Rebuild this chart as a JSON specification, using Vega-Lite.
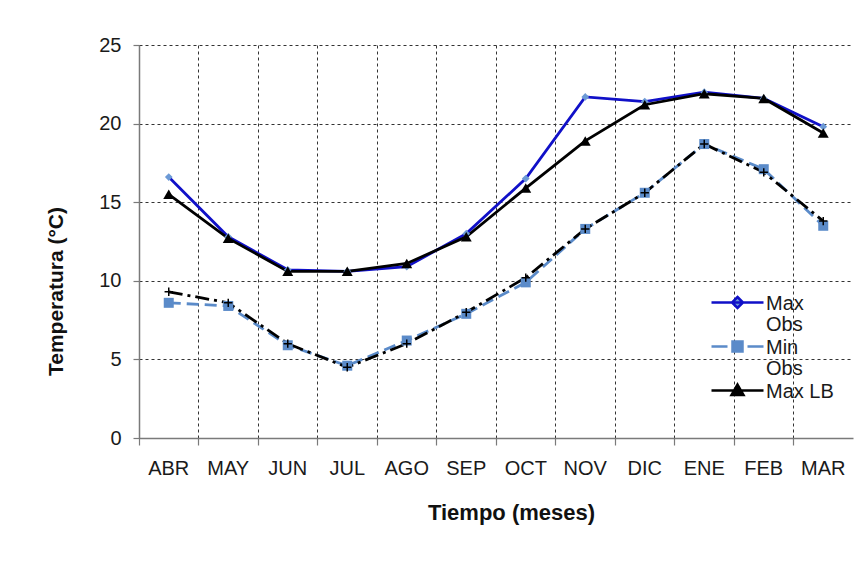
{
  "$schema": "https://vega.github.io/schema/vega-lite/v6.json",
  "width": 714,
  "height": 393,
  "autosize": {"type": "none"},
  "padding": {"left": 139, "top": 45, "right": 9, "bottom": 128},
  "background": "white",
  "data": {
    "values": [
      {"mes": "ABR", "serie": "Max Obs", "t": 16.6},
      {"mes": "MAY", "serie": "Max Obs", "t": 12.8},
      {"mes": "JUN", "serie": "Max Obs", "t": 10.7},
      {"mes": "JUL", "serie": "Max Obs", "t": 10.6},
      {"mes": "AGO", "serie": "Max Obs", "t": 10.9},
      {"mes": "SEP", "serie": "Max Obs", "t": 13.0},
      {"mes": "OCT", "serie": "Max Obs", "t": 16.5},
      {"mes": "NOV", "serie": "Max Obs", "t": 21.7},
      {"mes": "DIC", "serie": "Max Obs", "t": 21.4},
      {"mes": "ENE", "serie": "Max Obs", "t": 22.0},
      {"mes": "FEB", "serie": "Max Obs", "t": 21.6},
      {"mes": "MAR", "serie": "Max Obs", "t": 19.8},
      {"mes": "ABR", "serie": "Min Obs", "t": 8.6},
      {"mes": "MAY", "serie": "Min Obs", "t": 8.4},
      {"mes": "JUN", "serie": "Min Obs", "t": 5.9},
      {"mes": "JUL", "serie": "Min Obs", "t": 4.6},
      {"mes": "AGO", "serie": "Min Obs", "t": 6.2},
      {"mes": "SEP", "serie": "Min Obs", "t": 7.9},
      {"mes": "OCT", "serie": "Min Obs", "t": 9.9},
      {"mes": "NOV", "serie": "Min Obs", "t": 13.3},
      {"mes": "DIC", "serie": "Min Obs", "t": 15.6},
      {"mes": "ENE", "serie": "Min Obs", "t": 18.7},
      {"mes": "FEB", "serie": "Min Obs", "t": 17.1},
      {"mes": "MAR", "serie": "Min Obs", "t": 13.5},
      {"mes": "ABR", "serie": "Max LB", "t": 15.5},
      {"mes": "MAY", "serie": "Max LB", "t": 12.7},
      {"mes": "JUN", "serie": "Max LB", "t": 10.6},
      {"mes": "JUL", "serie": "Max LB", "t": 10.6},
      {"mes": "AGO", "serie": "Max LB", "t": 11.1},
      {"mes": "SEP", "serie": "Max LB", "t": 12.8},
      {"mes": "OCT", "serie": "Max LB", "t": 15.9},
      {"mes": "NOV", "serie": "Max LB", "t": 18.9},
      {"mes": "DIC", "serie": "Max LB", "t": 21.2},
      {"mes": "ENE", "serie": "Max LB", "t": 21.9},
      {"mes": "FEB", "serie": "Max LB", "t": 21.6},
      {"mes": "MAR", "serie": "Max LB", "t": 19.4},
      {"mes": "ABR", "serie": "Min LB", "t": 9.3},
      {"mes": "MAY", "serie": "Min LB", "t": 8.6},
      {"mes": "JUN", "serie": "Min LB", "t": 6.0},
      {"mes": "JUL", "serie": "Min LB", "t": 4.5},
      {"mes": "AGO", "serie": "Min LB", "t": 6.0},
      {"mes": "SEP", "serie": "Min LB", "t": 8.0},
      {"mes": "OCT", "serie": "Min LB", "t": 10.2},
      {"mes": "NOV", "serie": "Min LB", "t": 13.3},
      {"mes": "DIC", "serie": "Min LB", "t": 15.6},
      {"mes": "ENE", "serie": "Min LB", "t": 18.7},
      {"mes": "FEB", "serie": "Min LB", "t": 16.9},
      {"mes": "MAR", "serie": "Min LB", "t": 13.8}
    ]
  },
  "encoding": {
    "x": {
      "field": "mes",
      "type": "nominal",
      "sort": ["ABR", "MAY", "JUN", "JUL", "AGO", "SEP", "OCT", "NOV", "DIC", "ENE", "FEB", "MAR"],
      "scale": {"type": "band", "paddingInner": 0, "paddingOuter": 0},
      "axis": {
        "title": "Tiempo (meses)",
        "bandPosition": 0,
        "labelAngle": 0,
        "labelFont": "Liberation Sans",
        "labelFontSize": 20,
        "labelColor": "#1a1a1a",
        "labelPadding": 13,
        "tickSize": 7,
        "tickColor": "#7a7a7a",
        "tickWidth": 1.2,
        "domainColor": "#7a7a7a",
        "domainWidth": 1.5,
        "grid": true,
        "gridDash": [3, 3],
        "gridColor": "#333333",
        "gridWidth": 1,
        "titleFont": "Liberation Sans",
        "titleFontSize": 22,
        "titleFontWeight": "bold",
        "titleColor": "#111111",
        "titleX": 372,
        "titlePadding": 24
      }
    },
    "y": {
      "field": "t",
      "type": "quantitative",
      "scale": {"domain": [0, 25], "nice": false},
      "axis": {
        "title": "Temperatura (°C)",
        "values": [0, 5, 10, 15, 20, 25],
        "labelFont": "Liberation Sans",
        "labelFontSize": 20,
        "labelColor": "#1a1a1a",
        "labelPadding": 12,
        "tickSize": 6,
        "tickColor": "#7a7a7a",
        "tickWidth": 1.2,
        "domainColor": "#7a7a7a",
        "domainWidth": 1.5,
        "grid": true,
        "gridDash": [3, 3],
        "gridColor": "#333333",
        "gridWidth": 1,
        "titleFont": "Liberation Sans",
        "titleFontSize": 21,
        "titleFontWeight": "bold",
        "titleColor": "#111111",
        "titleX": -73,
        "titleY": 246
      }
    }
  },
  "layer": [
    {
      "transform": [{"filter": "datum.serie == 'Min Obs'"}],
      "mark": {"type": "line", "color": "#5B8BC9", "strokeWidth": 2.8, "strokeDash": [12, 6]}
    },
    {
      "transform": [{"filter": "datum.serie == 'Min LB'"}],
      "mark": {"type": "line", "color": "#000000", "strokeWidth": 2.8, "strokeDash": [14, 5, 3, 5]}
    },
    {
      "transform": [{"filter": "datum.serie == 'Max Obs'"}],
      "mark": {"type": "line", "color": "#1010C8", "strokeWidth": 2.8}
    },
    {
      "transform": [{"filter": "datum.serie == 'Max LB'"}],
      "mark": {"type": "line", "color": "#000000", "strokeWidth": 2.8}
    },
    {
      "transform": [{"filter": "datum.serie == 'Min Obs'"}],
      "mark": {"type": "point", "shape": "square", "filled": true, "color": "#5B8BC9", "size": 100, "opacity": 1}
    },
    {
      "transform": [{"filter": "datum.serie == 'Max Obs'"}],
      "mark": {"type": "point", "shape": "diamond", "filled": true, "color": "#6C9AD6", "size": 60, "opacity": 1}
    },
    {
      "transform": [{"filter": "datum.serie == 'Max LB'"}],
      "mark": {"type": "point", "shape": "triangle-up", "filled": true, "color": "#000000", "size": 120, "opacity": 1}
    },
    {
      "transform": [{"filter": "datum.serie == 'Min LB'"}],
      "mark": {"type": "point", "shape": "M-1,0H1M0,-1V1", "filled": false, "color": "#000000", "strokeWidth": 1.5, "size": 70, "opacity": 1}
    },
    {
      "transform": [{"filter": "datum.serie != 'Min LB'"}],
      "mark": {"type": "point", "filled": true, "opacity": 0, "size": 400, "strokeWidth": 2.5},
      "encoding": {
        "shape": {
          "field": "serie",
          "type": "nominal",
          "scale": {
            "domain": ["Max Obs", "Min Obs", "Max LB"],
            "range": [
              "M-1,0H4.2M1.6,-0.55L2.15,0L1.6,0.55L1.05,0Z",
              "M-1,0H0.6M2.6,0H4.2M1.1,-0.5H2.1V0.5H1.1Z",
              "M-1,0H4.2M1.6,-0.6L2.2,0.45H1.0Z"
            ]
          },
          "legend": {
            "title": null,
            "orient": "none",
            "legendX": 571,
            "legendY": 246,
            "symbolSize": 400,
            "symbolStrokeWidth": 2.5,
            "labelFont": "Liberation Sans",
            "labelFontSize": 20,
            "labelColor": "#1a1a1a",
            "labelOffset": 33,
            "labelBaseline": "top",
            "rowPadding": 0,
            "padding": 0,
            "labelExpr": "datum.label == 'Max Obs' ? ['Max', 'Obs'] : datum.label == 'Min Obs' ? ['Min', 'Obs'] : datum.label",
            "encode": {
              "symbols": {"update": {"opacity": {"value": 1}, "fillOpacity": {"value": 1}, "strokeOpacity": {"value": 1}}},
              "labels": {"update": {"dy": {"value": -9}, "lineHeight": {"value": 21}}}
            }
          }
        },
        "fill": {
          "field": "serie",
          "type": "nominal",
          "scale": {"domain": ["Max Obs", "Min Obs", "Max LB"], "range": ["#6C9AD6", "#5B8BC9", "#000000"]},
          "legend": {
            "title": null,
            "orient": "none",
            "legendX": 571,
            "legendY": 246,
            "symbolSize": 400,
            "symbolStrokeWidth": 2.5,
            "labelFont": "Liberation Sans",
            "labelFontSize": 20,
            "labelColor": "#1a1a1a",
            "labelOffset": 33,
            "labelBaseline": "top",
            "rowPadding": 0,
            "padding": 0,
            "labelExpr": "datum.label == 'Max Obs' ? ['Max', 'Obs'] : datum.label == 'Min Obs' ? ['Min', 'Obs'] : datum.label",
            "encode": {
              "symbols": {"update": {"opacity": {"value": 1}, "fillOpacity": {"value": 1}, "strokeOpacity": {"value": 1}}},
              "labels": {"update": {"dy": {"value": -9}, "lineHeight": {"value": 21}}}
            }
          }
        },
        "stroke": {
          "field": "serie",
          "type": "nominal",
          "scale": {"domain": ["Max Obs", "Min Obs", "Max LB"], "range": ["#1010C8", "#5B8BC9", "#000000"]},
          "legend": {
            "title": null,
            "orient": "none",
            "legendX": 571,
            "legendY": 246,
            "symbolSize": 400,
            "symbolStrokeWidth": 2.5,
            "labelFont": "Liberation Sans",
            "labelFontSize": 20,
            "labelColor": "#1a1a1a",
            "labelOffset": 33,
            "labelBaseline": "top",
            "rowPadding": 0,
            "padding": 0,
            "labelExpr": "datum.label == 'Max Obs' ? ['Max', 'Obs'] : datum.label == 'Min Obs' ? ['Min', 'Obs'] : datum.label",
            "encode": {
              "symbols": {"update": {"opacity": {"value": 1}, "fillOpacity": {"value": 1}, "strokeOpacity": {"value": 1}}},
              "labels": {"update": {"dy": {"value": -9}, "lineHeight": {"value": 21}}}
            }
          }
        }
      }
    }
  ],
  "config": {
    "view": {"stroke": null},
    "font": "Liberation Sans"
  }
}
